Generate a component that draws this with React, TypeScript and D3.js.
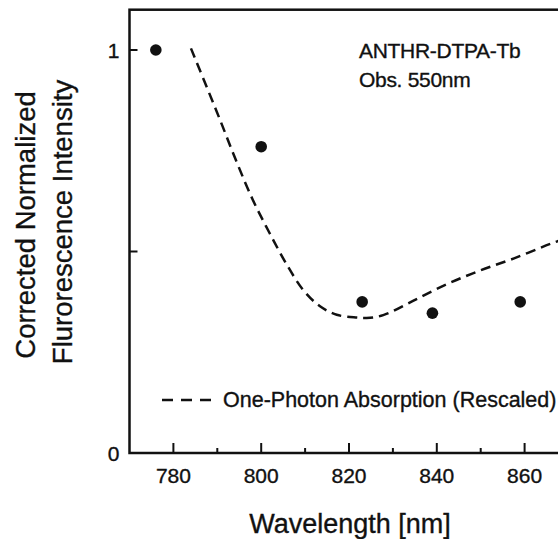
import { useEffect } from "react";
import * as d3 from "d3";

// measured points (fluorescence)
const pointWl = [776, 800, 823, 839, 859];
const pointVal = [1.0, 0.76, 0.375, 0.347, 0.375];

// one-photon absorption curve, rescaled
const curveWl = [784, 790.5, 794.3, 798.1, 801.9, 805.8, 809.6, 813.4, 817.2, 821.8, 824, 827.8, 834.7, 842.3, 849.9, 857.6, 865.9, 870];
const curveVal = [1.004, 0.83, 0.725, 0.628, 0.546, 0.468, 0.404, 0.364, 0.343, 0.336, 0.335, 0.342, 0.378, 0.419, 0.453, 0.483, 0.519, 0.535];

const xMajor = [780, 800, 820, 840, 860];
const xMinor = [790, 810, 830, 850];
const yTicks = [0.5, 1];
const yLabels = ["0", "1"];

const W = 558;
const H = 539;
const FONT = "'Liberation Sans', Arial, Helvetica, sans-serif";
const INK = "#111";

export default function App() {
  useEffect(() => {
    document.body.style.margin = "0";
  }, []);

  const x = d3.scaleLinear().domain([770, 870]).range([129.5, 568.5]);
  const y = d3.scaleLinear().domain([0, 1.1]).range([453, 9.7]);

  const line = d3
    .line<number>()
    .x((_, i) => x(curveWl[i]))
    .y((d) => y(d))
    .curve(d3.curveCatmullRom.alpha(0.5));

  const left = x(770);
  const right = x(870);
  const top = y(1.1);
  const bottom = y(0);

  // scanned text looks a bit heavier
  const txt = { fill: INK, stroke: INK, strokeWidth: 0.35 };

  return (
    <svg width={W} height={H} style={{ display: "block", background: "#fff" }} fontFamily={FONT}>
      {/* frame */}
      <rect x={left} y={top} width={right - left} height={bottom - top} fill="none" stroke={INK} strokeWidth={2.5} />

      {/* x ticks */}
      {xMajor.map((v) => (
        <g key={"xm" + v}>
          <line x1={x(v)} x2={x(v)} y1={bottom} y2={bottom - 10} stroke={INK} strokeWidth={2} />
          <text x={x(v)} y={bottom + 30} textAnchor="middle" fontSize={21} {...txt}>
            {v}
          </text>
        </g>
      ))}
      {xMinor.map((v) => (
        <line key={"xn" + v} x1={x(v)} x2={x(v)} y1={bottom} y2={bottom - 5} stroke={INK} strokeWidth={2} />
      ))}

      {/* y ticks */}
      {yTicks.map((v) => (
        <line key={"y" + v} x1={left} x2={left + 8} y1={y(v)} y2={y(v)} stroke={INK} strokeWidth={2} />
      ))}
      {[0, 1].map((v, i) => (
        <text key={"yl" + v} x={left - 10} y={y(v) + 7.5} textAnchor="end" fontSize={21} {...txt}>
          {yLabels[i]}
        </text>
      ))}

      {/* curve */}
      <path d={line(curveVal) ?? ""} fill="none" stroke={INK} strokeWidth={2.5} strokeDasharray="10,6" />

      {/* points */}
      {pointWl.map((w, i) => (
        <circle key={"p" + i} cx={x(w)} cy={y(pointVal[i])} r={5.8} fill={INK} />
      ))}

      {/* annotation */}
      <text x={359} y={58} fontSize={21} letterSpacing={-0.3} {...txt}>
        ANTHR-DTPA-Tb
      </text>
      <text x={359} y={87} fontSize={21} letterSpacing={-0.3} {...txt}>
        Obs. 550nm
      </text>

      {/* legend */}
      <line x1={162} x2={213} y1={400} y2={400} stroke={INK} strokeWidth={2.5} strokeDasharray="11,8" />
      <text x={223} y={407} fontSize={21.5} {...txt}>
        One-Photon Absorption (Rescaled)
      </text>

      {/* axis titles */}
      <text x={350} y={533} textAnchor="middle" fontSize={27} {...txt}>
        Wavelength [nm]
      </text>
      <text transform="translate(35,225) rotate(-90)" textAnchor="middle" fontSize={27.5} {...txt}>
        Corrected Normalized
      </text>
      <text transform="translate(72,222) rotate(-90)" textAnchor="middle" fontSize={27.5} {...txt}>
        Flurorescence Intensity
      </text>
    </svg>
  );
}
